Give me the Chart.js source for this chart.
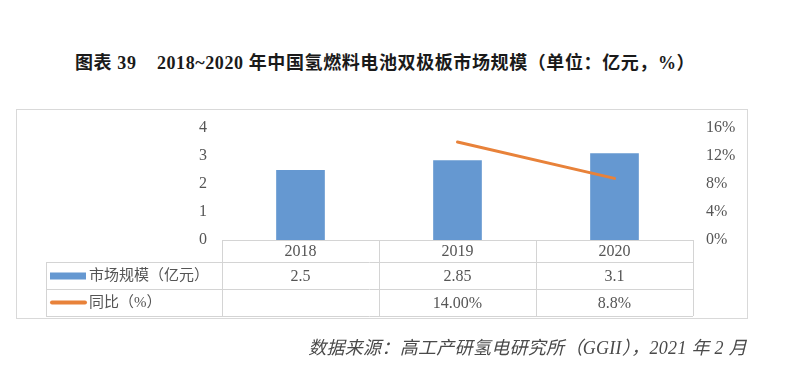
<!DOCTYPE html>
<html>
<head>
<meta charset="utf-8">
<script src="https://cdn.jsdelivr.net/npm/chart.js@4"></script>
<style>
  body { margin: 0; background: #fff; }
  #wrap { position: relative; width: 800px; height: 392px; }
  #title {
    position: absolute; left: 75px; top: 48px; white-space: nowrap; letter-spacing: 0.6px;
    font: bold 18px "Liberation Serif", "Noto Sans CJK SC", serif; color: #1a1a1a;
  }
  #source {
    position: absolute; right: 53px; top: 333px; white-space: nowrap; letter-spacing: 0.3px;
    font: italic 18px "Liberation Serif", "Noto Sans CJK SC", serif; color: #4a4a4a;
  }
  #box { position: absolute; left: 16px; top: 109px; width: 730px; height: 208px; border: 1px solid #d9d9d9; }
  canvas { position: absolute; left: 0; top: 0; }
</style>
</head>
<body>
<div id="wrap">
  <div id="title">图表 39&nbsp;&nbsp;&nbsp;&nbsp;2018~2020 年中国氢燃料电池双极板市场规模（单位：亿元，%）</div>
  <div id="box"></div>
  <canvas id="chart" width="800" height="392"></canvas>
  <div id="source">数据来源：高工产研氢电研究所（GGII），2021 年 2 月</div>
</div>
<script>
const years = ['2018', '2019', '2020'];
const marketSize = [2.5, 2.85, 3.1];
const marketLabels = ['2.5', '2.85', '3.1'];
const yoyGrowth = [null, 14.0, 8.8];
const yoyLabels = ['', '14.00%', '8.8%'];
const seriesNames = ['市场规模（亿元）', '同比（%）'];

const blue = '#6598d1';
const orange = '#e8823a';
const gridGray = '#d4d4d4';
const textGray = '#555';
const font = '"Liberation Serif", "Noto Sans CJK SC", serif';

// draws the data table under the plot, columns follow the x scale
const dataTable = {
    id: 'dataTable',
    afterDraw(chart) {
        const ctx = chart.ctx;
        const x = chart.scales.x;
        const area = chart.chartArea;
        const colW = (x.right - x.left) / years.length;
        const top = area.bottom;
        const rows = [top, top + 22, top + 49, top + 76];
        const legendLeft = 46;

        ctx.save();
        ctx.strokeStyle = gridGray;
        ctx.lineWidth = 1;
        ctx.beginPath();
        // header row top line only over the year columns
        ctx.moveTo(x.left, rows[0] + 0.5); ctx.lineTo(x.right, rows[0] + 0.5);
        for (let r = 1; r < rows.length; r++) {
            ctx.moveTo(legendLeft, rows[r] + 0.5); ctx.lineTo(x.right, rows[r] + 0.5);
        }
        for (let c = 0; c <= years.length; c++) {
            const cx = Math.round(x.left + c * colW) + 0.5;
            ctx.moveTo(cx, rows[0]); ctx.lineTo(cx, rows[3]);
        }
        ctx.moveTo(legendLeft + 0.5, rows[1]); ctx.lineTo(legendLeft + 0.5, rows[3]);
        ctx.stroke();

        ctx.fillStyle = textGray;
        ctx.font = '16px ' + font;
        ctx.textAlign = 'center';
        ctx.textBaseline = 'middle';
        years.forEach((yr, i) => {
            const cx = x.getPixelForValue(i);
            ctx.fillText(yr, cx, (rows[0] + rows[1]) / 2 + 1);
            ctx.fillText(marketLabels[i], cx, (rows[1] + rows[2]) / 2 + 1);
            if (yoyLabels[i]) ctx.fillText(yoyLabels[i], cx, (rows[2] + rows[3]) / 2 + 1);
        });

        // legend keys
        const y1 = (rows[1] + rows[2]) / 2;
        const y2 = (rows[2] + rows[3]) / 2;
        ctx.fillStyle = blue;
        ctx.fillRect(50, y1 - 3, 36, 7);
        ctx.strokeStyle = orange;
        ctx.lineWidth = 4;
        ctx.lineCap = 'round';
        ctx.beginPath();
        ctx.moveTo(52, y2); ctx.lineTo(85, y2);
        ctx.stroke();

        ctx.fillStyle = textGray;
        ctx.textAlign = 'left';
        ctx.font = '15px ' + font;
        ctx.fillText(seriesNames[0], 89, y1 + 1);
        ctx.fillText(seriesNames[1], 89, y2 + 1);
        ctx.restore();
    }
};

new Chart(document.getElementById('chart'), {
    data: {
        labels: years,
        datasets: [
            {
                type: 'line',
                label: seriesNames[1],
                data: yoyGrowth,
                yAxisID: 'yRight',
                borderColor: orange,
                borderWidth: 3,
                pointRadius: 0,
                borderCapStyle: 'round',
                order: 0
            },
            {
                type: 'bar',
                label: seriesNames[0],
                data: marketSize,
                yAxisID: 'yLeft',
                backgroundColor: blue,
                barPercentage: 0.31,
                categoryPercentage: 1,
                order: 1
            }
        ]
    },
    options: {
        responsive: false,
        animation: false,
        layout: { padding: { left: 0, right: 0, top: 128, bottom: 152 } },
        plugins: { legend: { display: false }, tooltip: { enabled: false } },
        scales: {
            x: { display: false, offset: true },
            yLeft: {
                position: 'left',
                min: 0, max: 4,
                afterFit: s => { s.width = 222; },
                border: { display: false },
                grid: { display: false, drawTicks: false },
                ticks: { stepSize: 1, padding: 15, color: textGray, font: { family: font, size: 16 } }
            },
            yRight: {
                position: 'right',
                min: 0, max: 16,
                afterFit: s => { s.width = 107; },
                border: { display: false },
                grid: { display: false, drawTicks: false },
                ticks: { stepSize: 4, padding: 13, color: textGray, font: { family: font, size: 16 },
                    callback: v => v + '%' }
            }
        }
    },
    plugins: [dataTable]
});
</script>
</body>
</html>
